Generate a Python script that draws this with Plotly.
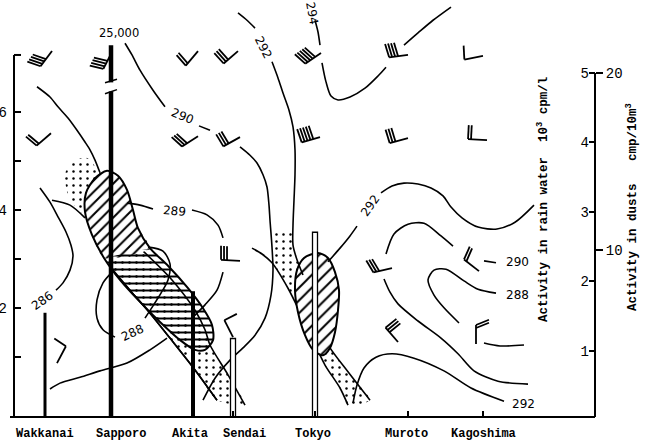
import math
import plotly.graph_objects as go

# ---------------- data ----------------
station_names = ["Wakkanai", "Sapporo", "Akita", "Sendai", "Tokyo", "Muroto", "Kagoshima"]
station_x = [3.1, 9.7, 17.9, 21.9, 30.1, 39.4, 46.9]          # distance along the section (arb. units)

rain_x = [3.1, 9.7, 17.9]                 # Wakkanai, Sapporo, Akita
rain_activity = [1.55, 25.0, 1.86]        # 10^3 cpm/l  (Sapporo: 25,000, off scale)
dust_x = [21.9, 30.1]                     # Sendai, Tokyo
dust_activity = [5.0, 11.0]               # cpm/10 m^3

height_labeled = [2, 4, 6]                # km
height_minor = [1, 3, 5]

# isentropes (x = distance, y = height km); None = gap
th294_x = [30.1, 30.4, 30.6, None, 30.8, 31.2, 31.7, 32.4, 33.6, 35.1, 36.4, 37.2, None, 39.0, 40.4, 41.9, 43.7]
th294_y = [7.88, 7.64, 7.37, None, 7.01, 6.62, 6.33, 6.25, 6.31, 6.49, 6.74, 6.92, None, 7.37, 7.62, 7.88, 8.15]

th292a_x = [22.4, 23.3, 24.1, None, 25.8, 26.4, 26.9, 27.5, 27.9, 28.1, 28.1, 28.0, 27.9, 27.9, 28.3, 28.9]
th292a_y = [8.03, 7.88, 7.72, None, 7.03, 6.70, 6.39, 6.04, 5.70, 5.23, 4.72, 4.20, 3.69, 3.28, 2.98, 2.67]

th292b_x = [31.4, 32.6, 33.6, 34.3, None, 36.7, 37.8, 39.0, 40.4, 41.7, 42.9, 43.7, 44.8, 46.4, 48.3, 50.1, 52.0]
th292b_y = [2.94, 3.22, 3.47, 3.67, None, 4.35, 4.49, 4.55, 4.53, 4.45, 4.29, 4.06, 3.84, 3.65, 3.61, 3.75, 4.10]

th292c_x = [33.9, 34.3, 35.0, 36.2, 37.8, 40.0, 43.0, 45.7, 49.0]
th292c_y = [0.05, 0.42, 0.77, 0.99, 1.06, 0.97, 0.71, 0.36, 0.09]

th290a_x = [11.1, 11.8, 12.6, 13.9, 15.1, None, 18.5, 19.6, None, 22.6, 23.6, 24.3, 24.9, 25.3, 25.5,
            25.6, 25.8, 25.9, 25.7, 25.1, 24.1, 22.9, 21.6, 20.1, 18.9]
th290a_y = [7.41, 7.17, 6.86, 6.45, 6.11, None, 5.72, 5.63, None, 5.29, 5.12, 4.96, 4.72, 4.47, 4.10,
            3.79, 3.24, 2.77, 2.26, 1.79, 1.44, 1.18, 0.93, 0.56, 0.11]

th290b_x = [3.6, 4.6, 6.6, 8.6, 11.3, 13.6, 15.3]
th290b_y = [0.34, 0.46, 0.58, 0.71, 0.87, 1.14, 1.38]

th290c_x = [48.2, 47.0, None, 43.9, 42.7, 41.0, 39.4, 38.0, 37.2, None, 37.0, 37.6, 38.4, 40.4, 42.7, 44.4, 46.0, 48.4, 51.4]
th290c_y = [2.92, 2.96, None, 3.26, 3.47, 3.73, 3.71, 3.51, 3.10, None, 2.59, 2.32, 2.08, 1.73, 1.38, 1.06, 0.71, 0.50, 0.44]

th289_x = [3.8, 5.6, 7.1, None, 11.3, 12.6, 13.9, None, 17.8, 19.3, 20.4, 20.9, None, 20.9, 20.3, 19.1, 17.9]
th289_y = [4.20, 4.10, 3.84, None, 4.14, 4.10, 4.02, None, 4.00, 3.90, 3.69, 3.43, None, 2.73, 2.36, 2.06, 1.81]

thnw_x = [2.3, 3.6, 4.4, 5.4, 6.3, 7.1, 7.6, 8.1, 8.6]
thnw_y = [6.52, 6.31, 6.11, 5.88, 5.63, 5.39, 5.23, 5.02, 4.76]

th288a_x = [9.8, 8.9, 8.3, 8.3, 8.9, 10.1, None, 13.1, 13.9, 14.7, 15.4, 15.6, 14.9, 13.4]
th288a_y = [2.73, 2.51, 2.16, 1.79, 1.55, 1.40, None, 1.79, 2.04, 2.30, 2.57, 2.90, 3.16, 3.24]

th288b_x = [44.5, 43.0, 42.0, 41.4, 42.0, 43.2, 45.0, 46.4, 48.2]
th288b_y = [1.69, 2.00, 2.26, 2.57, 2.77, 2.79, 2.55, 2.38, 2.30]

th288c_x = [47.0, 48.6, 51.0]
th288c_y = [1.28, 1.22, 1.24]

th286_x = [2.6, 3.6, 4.4, 5.2, 5.7, 5.9, 5.6, 4.9, 4.2]
th286_y = [4.45, 4.16, 3.86, 3.55, 3.28, 3.06, 2.77, 2.51, 2.36]

# frontal zones
sap_left_x = [8.6, 9.0, 9.3, 9.6, 9.9, 11.6, 13.6, 15.6, 18.1, 20.3]
sap_left_y = [4.76, 4.20, 3.59, 3.08, 2.77, 2.36, 1.89, 1.38, 0.73, 0.11]
sap_right_x = [10.6, 11.4, 12.6, 15.8, 18.1, 19.1, 19.6, 21.4, 23.1]
sap_right_y = [4.61, 3.90, 3.22, 2.57, 1.95, 1.55, 1.24, 0.63, 0.01]
sap_core_x = [9.3, 10.4, 11.3, 11.9, 12.4, 13.6, 15.4, 17.4, 18.9, 19.8, 19.9, 19.1, 18.1, 16.6, 14.6,
              12.6, 10.6, 9.0, 7.8, 7.1, 7.2, 8.1, 9.3]
sap_core_y = [4.80, 4.70, 4.41, 4.00, 3.63, 3.22, 2.86, 2.40, 1.99, 1.65, 1.34, 1.14, 1.14, 1.34, 1.71,
              2.12, 2.57, 3.02, 3.49, 3.96, 4.35, 4.65, 4.80]
nw_dots_x = [5.8, 7.4, 8.4, 8.6, 7.8, 6.6, 5.4, 5.0]
nw_dots_y = [5.02, 5.06, 4.78, 4.31, 3.96, 3.96, 4.31, 4.72]

tok_left_x = [23.8, 24.8, 25.8, 27.4, 28.6, 29.8, 31.1, 32.6, 33.4]
tok_left_y = [3.22, 3.10, 2.92, 2.40, 1.91, 1.38, 0.83, 0.36, 0.01]
tok_right_x = [28.9, 29.6, 30.4, 31.6, 33.4, 35.6]
tok_right_y = [2.67, 2.16, 1.65, 1.18, 0.69, 0.11]
tok_zone_x = [25.8, 25.9, 27.4, 28.6, 29.8, 31.1, 32.6, 33.4, 35.6, 33.4, 31.6, 30.4, 29.6, 28.9, 28.2, 27.9]
tok_zone_y = [3.55, 2.94, 2.40, 1.91, 1.38, 0.83, 0.36, 0.01, 0.11, 0.69, 1.18, 1.65, 2.16, 2.67, 3.08, 3.55]
tok_core_x = [30.4, 31.4, 32.1, 32.5, 32.4, 32.1, 31.6, 30.9, 29.9, 29.1, 28.4, 28.1, 28.3, 29.0, 30.4]
tok_core_y = [3.12, 3.02, 2.73, 2.36, 1.95, 1.50, 1.18, 1.03, 1.14, 1.44, 1.91, 2.36, 2.77, 3.02, 3.12]

# wind barbs: station end (x, km), staff direction, feather direction (deg, screen), feathers
barb_x = [3.8, 9.8, 18.4, 22.4, 30.7, 39.4, 46.9, 3.7, 18.4, 22.6, 30.6, 39.4, 47.3,
          22.6, 37.8, 46.5, 4.3, 21.9, 38.4, 46.2]
barb_y = [7.25, 7.23, 7.25, 7.25, 7.21, 7.17, 7.15, 5.57, 5.51, 5.49, 5.49, 5.47, 5.43,
          2.96, 2.81, 2.75, 0.87, 1.40, 1.30, 1.26]
barb_staff = [233, 243, 230, 221, 214, 187, 191, 221, 213, 209, 196, 195, 177,
              177, 193, 142, 62, 117, 131, 90]
barb_feather = [161, 166, 131, 132, 138, 107, 93, 140, 138, 121, 109, 107, 87,
                90, 121, 66, 146, 27, 39, 22]
barb_n = [4, 4, 2, 3, 5, 4, 1, 2, 3, 3, 5, 3, 2, 3, 3, 2, 1, 1, 3, 2]

# isentrope labels
lab_text = ["294", "292", "290", "289", "288", "286", "292", "290", "288", "292"]
lab_x = [29.8, 24.9, 16.8, 16.0, 11.8, 2.8, 35.6, 50.3, 50.3, 50.9]
lab_y = [8.03, 7.33, 5.92, 3.98, 1.49, 2.14, 4.08, 2.94, 2.26, 0.03]
lab_angle = [80, 63, 22, 5, -25, -35, -55, 0, 0, 0]

# ---------------- layout constants ----------------
W, H = 662, 442
ML, MR, MT, MB = 14, 67, 0, 25
X_RANGE = [0.0, 58.1]
Y_RANGE = [-0.233, 8.294]
Y2_RANGE = [0.0504, 6.05]
Y3_RANGE = [0.565, 24.12]
PW, PH = W - ML - MR, H - MT - MB
sx = PW / (X_RANGE[1] - X_RANGE[0])
sy = PH / (Y_RANGE[1] - Y_RANGE[0])
MONO = "Liberation Mono"
LBL = "DejaVu Sans"

fig = go.Figure()


def add_line(x, y, width=1.6, yaxis="y", shape="spline"):
    fig.add_trace(go.Scatter(x=x, y=y, mode="lines", yaxis=yaxis, hoverinfo="skip",
                             line=dict(color="black", width=width, shape=shape, smoothing=0.8)))


def add_patch(x, y, shape, size, solidity, bg="rgba(0,0,0,0)"):
    fig.add_trace(go.Scatter(x=x, y=y, mode="lines", fill="toself", fillcolor=bg, hoverinfo="skip",
                             line=dict(color="rgba(0,0,0,0)", width=0, shape="spline", smoothing=0.6),
                             fillpattern=dict(shape=shape, size=size, solidity=solidity,
                                              fgcolor="black", bgcolor=bg, fillmode="replace")))


# stippled zones
add_patch(sap_left_x + sap_right_x[::-1], sap_left_y + sap_right_y[::-1], ".", 7, 0.1)
add_patch(nw_dots_x, nw_dots_y, ".", 7, 0.1)
add_patch(tok_zone_x, tok_zone_y, ".", 7, 0.1)

# band edges
add_line(sap_left_x, sap_left_y, 1.6)
add_line(sap_right_x[2:], sap_right_y[2:], 1.6)
add_line(tok_left_x, tok_left_y, 1.6)
add_line(tok_right_x, tok_right_y, 1.6)

# hatched cores
up_x = sap_core_x[0:6] + sap_core_x[17:]
up_y = sap_core_y[0:6] + sap_core_y[17:]
add_patch(up_x, up_y, "/", 8, 0.25, bg="white")
add_patch(sap_core_x[5:18], sap_core_y[5:18], "-", 7, 0.28)
add_line(sap_left_x[4:], sap_left_y[4:], 1.6)
add_line(sap_core_x, sap_core_y, 2.0)
add_patch(tok_core_x, tok_core_y, "/", 9, 0.22, bg="white")
add_line(tok_core_x, tok_core_y, 2.0)

# isentropes
for xs, ys in [(th294_x, th294_y), (th292a_x, th292a_y), (th292b_x, th292b_y), (th292c_x, th292c_y),
               (th290a_x, th290a_y), (th290b_x, th290b_y), (th290c_x, th290c_y), (th289_x, th289_y),
               (thnw_x, thnw_y), (th288a_x, th288a_y), (th288b_x, th288b_y), (th288c_x, th288c_y),
               (th286_x, th286_y)]:
    add_line(xs, ys, 1.6)

# wind barbs (geometry built in screen units, converted back through the axis scales)
STAFF, FEATHER, GAP = 19.0, 14.0, 3.0
bx, by = [], []
for x0, y0, a, f, n in zip(barb_x, barb_y, barb_staff, barb_feather, barb_n):
    ua = (math.cos(math.radians(a)), math.sin(math.radians(a)))
    uf = (math.cos(math.radians(f)), math.sin(math.radians(f)))
    x1, y1 = x0 + STAFF * ua[0] / sx, y0 + STAFF * ua[1] / sy
    bx += [x0, x1, None]
    by += [y0, y1, None]
    for k in range(n):
        px_, py_ = x1 - k * GAP * ua[0] / sx, y1 - k * GAP * ua[1] / sy
        bx += [px_, px_ + FEATHER * uf[0] / sx, None]
        by += [py_, py_ + FEATHER * uf[1] / sy, None]
fig.add_trace(go.Scatter(x=bx, y=by, mode="lines", hoverinfo="skip",
                         line=dict(color="black", width=1.8)))

# activity bars
CAP = 5.4
fig.add_trace(go.Bar(x=rain_x, y=[min(v, CAP) for v in rain_activity], width=[0.3, 0.45, 0.4],
                     yaxis="y2", marker=dict(color="black", line=dict(width=0)), hoverinfo="skip"))
fig.add_trace(go.Bar(x=dust_x, y=dust_activity, width=0.5, yaxis="y3",
                     marker=dict(color="white", line=dict(color="black", width=1.3)), hoverinfo="skip"))

# off-scale break on the Sapporo bar
i_big = max(range(len(rain_activity)), key=lambda i: rain_activity[i])
xb = rain_x[i_big]
BRK = 4.8
fig.add_trace(go.Scatter(x=[xb - 0.5, xb + 0.5], y=[BRK, BRK], yaxis="y2", mode="lines",
                         line=dict(color="white", width=9), hoverinfo="skip"))
fig.add_trace(go.Scatter(x=[xb - 0.6, xb + 0.6, None, xb - 0.6, xb + 0.6],
                         y=[BRK + 0.06, BRK + 0.11, None, BRK - 0.1, BRK - 0.04], yaxis="y2",
                         mode="lines", line=dict(color="black", width=1.5), hoverinfo="skip"))

ann = []
ann.append(dict(x=xb + 0.75, y=CAP + 0.18, xref="x", yref="y2", text=f"{rain_activity[i_big]*1000:,.0f}",
                showarrow=False, font=dict(family=LBL, size=11.5, color="black")))
for t, x, y, ang in zip(lab_text, lab_x, lab_y, lab_angle):
    ann.append(dict(x=x, y=y, xref="x", yref="y", text=t, textangle=ang, showarrow=False,
                    font=dict(family=LBL, size=12, color="black")))

label_nudge = {"Sapporo": 1.0, "Sendai": 1.1, "Akita": -0.3, "Tokyo": -0.2, "Muroto": -0.2}
for name, x in zip(station_names, station_x):
    ann.append(dict(x=x + label_nudge.get(name, 0), y=0, xref="x", yref="paper", yanchor="top", yshift=-8,
                    text=f"<b>{name}</b>", showarrow=False, font=dict(family=MONO, size=12, color="black")))

ann.append(dict(x=(553 - ML) / PW, y=1 - 200 / PH, xref="paper", yref="paper", textangle=-90,
                text="<b>Activity in rain water  10<sup>3</sup> cpm/l</b>", showarrow=False,
                font=dict(family=MONO, size=12.5, color="black")))
ann.append(dict(x=(642 - ML) / PW, y=1 - 207 / PH, xref="paper", yref="paper", textangle=-90,
                text="<b>Activity in dusts   cmp/10m<sup>3</sup></b>", showarrow=False,
                font=dict(family=MONO, size=12.5, color="black")))

# axis lines as shapes
left_top = (7.17 - Y_RANGE[0]) / (Y_RANGE[1] - Y_RANGE[0])
right_top = (5 - Y2_RANGE[0]) / (Y2_RANGE[1] - Y2_RANGE[0])
shapes = [
    dict(type="line", xref="paper", yref="paper", x0=0, x1=0, y0=0, y1=left_top, line=dict(color="black", width=2)),
    dict(type="line", xref="paper", yref="paper", x0=0, x1=7 / PW, y0=left_top, y1=left_top, line=dict(color="black", width=2)),
    dict(type="line", xref="paper", yref="paper", x0=-4 / PW, x1=1, y0=0, y1=0, line=dict(color="black", width=2)),
    dict(type="line", xref="paper", yref="paper", x0=1, x1=1, y0=0, y1=right_top, line=dict(color="black", width=2)),
]

ax_common = dict(showgrid=False, zeroline=False, showline=False, automargin=False, fixedrange=True,
                 tickcolor="black")
fig.update_layout(
    width=W, height=H, margin=dict(l=ML, r=MR, t=MT, b=MB, pad=0),
    template="none", paper_bgcolor="white", plot_bgcolor="white",
    showlegend=False, barmode="overlay", hovermode=False,
    font=dict(family=MONO, color="black"),
    xaxis=dict(range=X_RANGE, ticks="inside", ticklen=6, tickwidth=1.5, tickvals=station_x,
               showticklabels=False, **ax_common),
    yaxis=dict(range=Y_RANGE, ticks="inside", ticklen=7, tickwidth=2, tickvals=height_labeled,
               ticklabelstandoff=6,
               minor=dict(tickvals=height_minor, ticks="inside", ticklen=7, tickwidth=2, tickcolor="black",
                          showgrid=False),
               tickfont=dict(family=MONO, size=14, color="black"), **ax_common),
    yaxis2=dict(range=Y2_RANGE, overlaying="y", side="right", anchor="x", ticks="inside", ticklen=6,
                tickwidth=2, tickvals=[1, 2, 3, 4, 5], ticklabelposition="inside",
                tickfont=dict(family=MONO, size=14, color="black"), **ax_common),
    yaxis3=dict(range=Y3_RANGE, overlaying="y", side="right", anchor="x", ticks="outside", ticklen=7,
                tickwidth=2, tickvals=[10, 20],
                tickfont=dict(family=MONO, size=14, color="black"), **ax_common),
    annotations=ann, shapes=shapes,
)

fig.write_html("out.html")
